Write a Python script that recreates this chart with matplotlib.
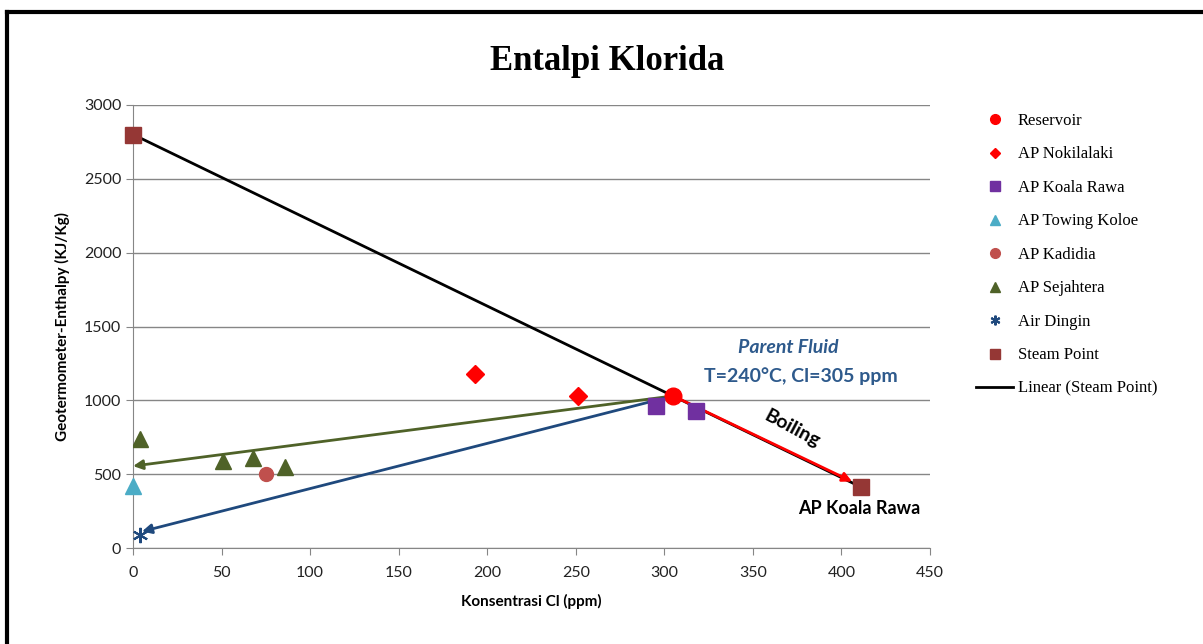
import matplotlib.pyplot as plt
from matplotlib.lines import Line2D

# data
reservoir_x = [305]
reservoir_y = [1030]
nokilalaki_x = [193, 251]
nokilalaki_y = [1180, 1030]
koala_x = [295, 318]
koala_y = [960, 928]
towing_x = [0]
towing_y = [420]
kadidia_x = [75]
kadidia_y = [503]
sejahtera_x = [4, 51, 68, 86]
sejahtera_y = [735, 592, 612, 550]
dingin_x = [4]
dingin_y = [90]
steam_x = [0, 411]
steam_y = [2800, 413]

# mixing / boiling lines start at the reservoir
mix_green_end = (0, 555)
mix_blue_end = (5, 112)
boil_end = (406, 450)

fig = plt.figure(figsize=(12.03, 6.44), dpi=100)
ax = fig.add_axes([0.1106, 0.149, 0.6625, 0.688])

grid_col = '#868686'
ax.set_xlim(0, 450)
ax.set_ylim(0, 3000)
ax.set_xticks(range(0, 451, 50))
ax.set_yticks(range(0, 3001, 500))
ax.grid(axis='y', color=grid_col, lw=1)
ax.set_axisbelow(True)
for s in ['top', 'right']:
    ax.spines[s].set_visible(False)
for s in ['left', 'bottom']:
    ax.spines[s].set_color(grid_col)
ax.tick_params(axis='both', colors=grid_col, length=5, labelcolor='#222222',
               labelsize=11.5)
for lab in ax.get_xticklabels() + ax.get_yticklabels():
    lab.set_family('Lato')
ax.tick_params(axis='x', pad=8)

# lines
ax.plot(steam_x, steam_y, color='black', lw=2, zorder=2)
start = (reservoir_x[0], reservoir_y[0])
for end, col in [(mix_green_end, '#4F6228'), (mix_blue_end, '#1F497D'),
                 (boil_end, '#FF0000')]:
    ax.annotate('', xy=end, xytext=start,
                arrowprops=dict(arrowstyle='-|>', color=col, lw=2,
                                mutation_scale=14, shrinkA=0, shrinkB=0),
                zorder=3)

ax.plot(reservoir_x, reservoir_y, 'o', color='#FF0000', ms=12, zorder=4)
ax.plot(nokilalaki_x, nokilalaki_y, 'D', color='#FF0000', ms=9, zorder=4)
ax.plot(koala_x, koala_y, 's', color='#7030A0', ms=11, zorder=4)
ax.plot(towing_x, towing_y, '^', color='#4BACC6', ms=11, zorder=4, clip_on=False)
ax.plot(kadidia_x, kadidia_y, 'o', color='#C0504D', ms=10, zorder=4)
ax.plot(sejahtera_x, sejahtera_y, '^', color='#4F6228', ms=11, zorder=4)
ax.plot(dingin_x, dingin_y, marker=(6, 2, 0), ls='none', color='#1F497D',
        ms=11, mew=1.5, zorder=4)
ax.plot(steam_x, steam_y, 's', color='#953735', ms=11, zorder=4, clip_on=False)

blue_txt = '#2E5A8C'
ax.text(370, 1355, 'Parent Fluid', color=blue_txt, fontsize=14, style='italic',
        fontweight='bold', ha='center', va='center', family='Lato')
ax.text(377, 1165, 'T=240\u00b0C, Cl=305 ppm', color=blue_txt, fontsize=14,
        fontweight='bold', ha='center', va='center', family='Lato')
ax.text(372, 807, 'Boiling', fontsize=14, fontweight='bold', rotation=-28,
        ha='center', va='center', family='Lato')
ax.text(410, 270, 'AP Koala Rawa', fontsize=13, fontweight='bold',
        ha='center', va='center', family='Lato')

ax.set_xlabel('Konsentrasi Cl (ppm)', fontsize=11, fontweight='bold',
              family='Lato', labelpad=10)
ax.set_ylabel('Geotermometer-Enthalpy (KJ/Kg)', fontsize=11, fontweight='bold',
              family='Lato', labelpad=10)

fig.text(0.505, 0.905, 'Entalpi Klorida', fontsize=25, fontweight='bold',
         family='Liberation Serif', ha='center', va='center')

# legend
handles = [
    Line2D([], [], ls='none', marker='o', color='#FF0000', ms=7),
    Line2D([], [], ls='none', marker='D', color='#FF0000', ms=5),
    Line2D([], [], ls='none', marker='s', color='#7030A0', ms=7),
    Line2D([], [], ls='none', marker='^', color='#4BACC6', ms=7),
    Line2D([], [], ls='none', marker='o', color='#C0504D', ms=7),
    Line2D([], [], ls='none', marker='^', color='#4F6228', ms=7),
    Line2D([], [], ls='none', marker=(6, 2, 0), color='#1F497D', ms=7, mew=1.5),
    Line2D([], [], ls='none', marker='s', color='#953735', ms=7),
    Line2D([], [], color='black', lw=2),
]
labels = ['Reservoir', 'AP Nokilalaki', 'AP Koala Rawa', 'AP Towing Koloe',
          'AP Kadidia', 'AP Sejahtera', 'Air Dingin', 'Steam Point',
          'Linear (Steam Point)']
fig.legend(handles, labels, loc='upper left', bbox_to_anchor=(0.799, 0.848),
           frameon=False, prop={'family': 'Liberation Serif', 'size': 12},
           labelspacing=1.05, handlelength=2.2, handletextpad=0.3)

# outer frame
fig.add_artist(Line2D([0.006, 0.006], [0, 0.981], color='black', lw=3,
                      transform=fig.transFigure))
fig.add_artist(Line2D([0.006, 1], [0.981, 0.981], color='black', lw=3,
                      transform=fig.transFigure))

fig.savefig('out.png', dpi=100)
